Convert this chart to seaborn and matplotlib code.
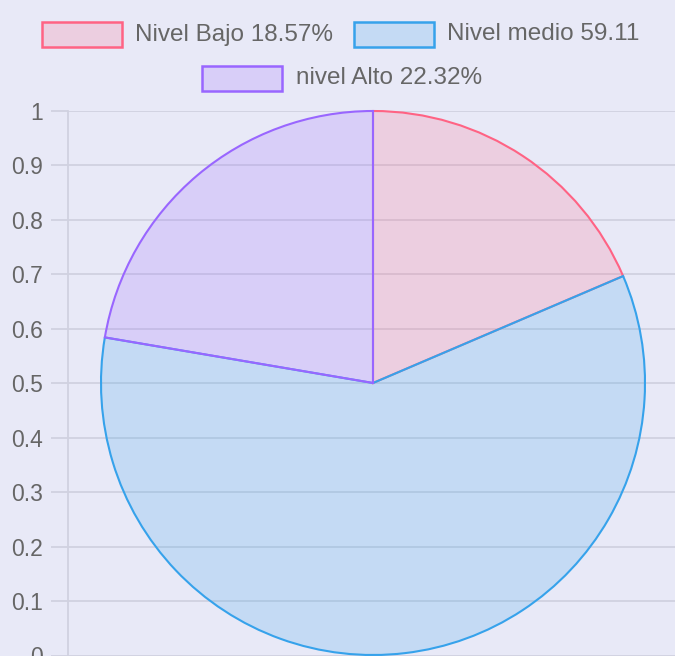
import matplotlib
matplotlib.use('Agg')
import matplotlib.pyplot as plt
import seaborn as sns
from matplotlib.colors import to_rgba
from matplotlib.patches import Rectangle

# data
labels = ['Nivel Bajo 18.57%', 'Nivel medio 59.11', 'nivel Alto 22.32%']
values = [18.57, 59.11, 22.32]
border_colors = ['#ff6384', '#36a2eb', '#9966ff']
yticks = [0, 0.1, 0.2, 0.3, 0.4, 0.5, 0.6, 0.7, 0.8, 0.9, 1]
ytick_labels = ['0', '0.1', '0.2', '0.3', '0.4', '0.5', '0.6', '0.7', '0.8', '0.9', '1']

bg = '#e8e9f7'
grid_c = '#d0d1e0'
text_c = '#666666'

sns.set_theme(style='whitegrid')
plt.rcParams['font.family'] = ['Liberation Sans', 'DejaVu Sans']

W, H = 675, 656
fig = plt.figure(figsize=(W / 100, H / 100), dpi=100, facecolor=bg)


def fx(px):
    return px / W


def fy(py):
    # pixel from top -> figure fraction from bottom
    return 1 - py / H


# axis with the 0..1 scale behind the pie
ax = fig.add_axes([fx(68), fy(655.5), fx(W - 68), (655.5 - 111) / H])
ax.set_facecolor(bg)
ax.set_xlim(0, 1)
ax.set_ylim(0, 1)
ax.set_yticks(yticks)
ax.set_yticklabels(ytick_labels)
ax.set_xticks([])
ax.grid(axis='y', color=grid_c, lw=1.3)
ax.grid(axis='x', visible=False)
ax.tick_params(axis='y', length=12, width=1.3, color=grid_c, pad=6,
               labelsize=16.5, labelcolor=text_c, left=True)
for s in ['top', 'right', 'bottom']:
    ax.spines[s].set_visible(False)
ax.spines['left'].set_color(grid_c)
ax.spines['left'].set_linewidth(1.3)

# pie
pax = fig.add_axes([fx(101), fy(655), fx(544), 544 / H])
wedges, _ = pax.pie(values, startangle=90, counterclock=False, radius=1,
                    wedgeprops=dict(linewidth=1.5))
for w, c in zip(wedges, border_colors):
    w.set_facecolor(to_rgba(c, 0.2))
    w.set_edgecolor(c)
    w.set_clip_on(False)
pax.set_xlim(-1, 1)
pax.set_ylim(-1, 1)
pax.axis('off')

# legend drawn like the chart.js one
legend_pos = [(42, 34.5, 135), (354, 34.5, 447), (202, 78, 296)]
for (bx, cy, tx), lab, c in zip(legend_pos, labels, border_colors):
    fig.add_artist(Rectangle((fx(bx), fy(cy + 12.5)), fx(80), 25 / H,
                             transform=fig.transFigure,
                             facecolor=to_rgba(c, 0.2), edgecolor=c, lw=1.8))
    fig.text(fx(tx), fy(cy), lab, ha='left', va='center',
             fontsize=17.5, color=text_c)

fig.savefig('out.png', dpi=100, facecolor=bg)
